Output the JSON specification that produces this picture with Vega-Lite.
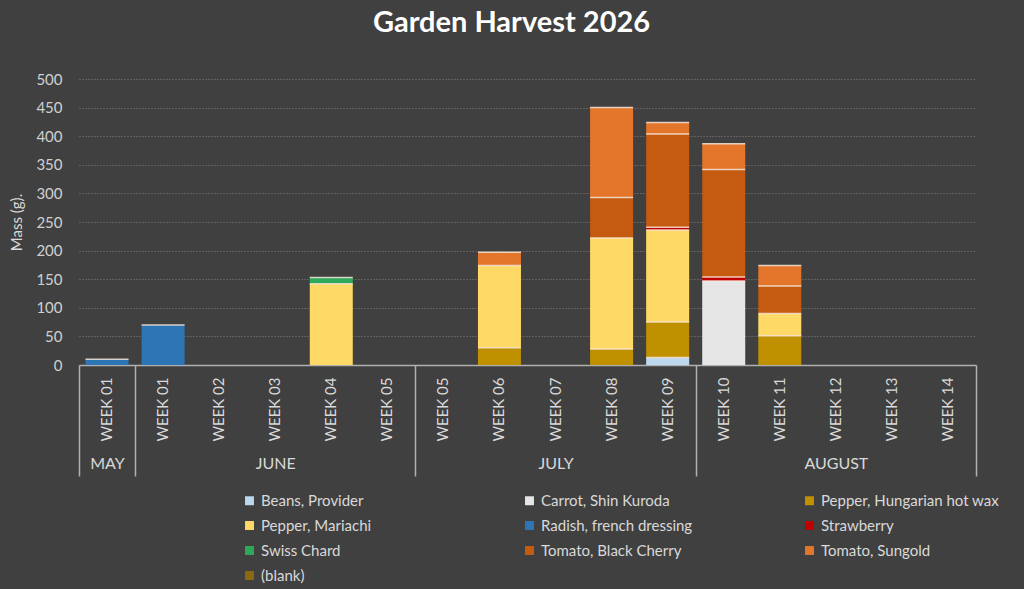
{
  "$schema": "https://vega.github.io/schema/vega-lite/v6.json",
  "autosize": {"type": "none"},
  "padding": {"left": 79, "top": 79, "right": 48, "bottom": 224},
  "width": 897,
  "height": 286,
  "background": "#404040",
  "title": {
    "text": "Garden Harvest 2026",
    "font": "Lato",
    "fontSize": 29,
    "fontWeight": "bold",
    "color": "#ffffff",
    "anchor": "middle",
    "dx": -16,
    "offset": 34
  },
  "data": {
    "values": [
      {"slot": "MAY|WEEK 01", "month": "MAY", "week": "WEEK 01", "crop": "Radish, french dressing", "mass": 10},
      {"slot": "JUNE|WEEK 01", "month": "JUNE", "week": "WEEK 01", "crop": "Radish, french dressing", "mass": 70},
      {"slot": "JUNE|WEEK 04", "month": "JUNE", "week": "WEEK 04", "crop": "Pepper, Mariachi", "mass": 142},
      {"slot": "JUNE|WEEK 04", "month": "JUNE", "week": "WEEK 04", "crop": "Swiss Chard", "mass": 11},
      {"slot": "JULY|WEEK 06", "month": "JULY", "week": "WEEK 06", "crop": "Pepper, Hungarian hot wax", "mass": 30},
      {"slot": "JULY|WEEK 06", "month": "JULY", "week": "WEEK 06", "crop": "Pepper, Mariachi", "mass": 144},
      {"slot": "JULY|WEEK 06", "month": "JULY", "week": "WEEK 06", "crop": "Tomato, Sungold", "mass": 23},
      {"slot": "JULY|WEEK 08", "month": "JULY", "week": "WEEK 08", "crop": "Pepper, Hungarian hot wax", "mass": 28},
      {"slot": "JULY|WEEK 08", "month": "JULY", "week": "WEEK 08", "crop": "Pepper, Mariachi", "mass": 194},
      {"slot": "JULY|WEEK 08", "month": "JULY", "week": "WEEK 08", "crop": "Tomato, Black Cherry", "mass": 71},
      {"slot": "JULY|WEEK 08", "month": "JULY", "week": "WEEK 08", "crop": "Tomato, Sungold", "mass": 157},
      {"slot": "JULY|WEEK 09", "month": "JULY", "week": "WEEK 09", "crop": "Beans, Provider", "mass": 13},
      {"slot": "JULY|WEEK 09", "month": "JULY", "week": "WEEK 09", "crop": "Pepper, Hungarian hot wax", "mass": 62},
      {"slot": "JULY|WEEK 09", "month": "JULY", "week": "WEEK 09", "crop": "Pepper, Mariachi", "mass": 161},
      {"slot": "JULY|WEEK 09", "month": "JULY", "week": "WEEK 09", "crop": "Strawberry", "mass": 5},
      {"slot": "JULY|WEEK 09", "month": "JULY", "week": "WEEK 09", "crop": "Tomato, Black Cherry", "mass": 163},
      {"slot": "JULY|WEEK 09", "month": "JULY", "week": "WEEK 09", "crop": "Tomato, Sungold", "mass": 20},
      {"slot": "AUGUST|WEEK 10", "month": "AUGUST", "week": "WEEK 10", "crop": "Carrot, Shin Kuroda", "mass": 147},
      {"slot": "AUGUST|WEEK 10", "month": "AUGUST", "week": "WEEK 10", "crop": "Strawberry", "mass": 7},
      {"slot": "AUGUST|WEEK 10", "month": "AUGUST", "week": "WEEK 10", "crop": "Tomato, Black Cherry", "mass": 188},
      {"slot": "AUGUST|WEEK 10", "month": "AUGUST", "week": "WEEK 10", "crop": "Tomato, Sungold", "mass": 45},
      {"slot": "AUGUST|WEEK 11", "month": "AUGUST", "week": "WEEK 11", "crop": "Pepper, Hungarian hot wax", "mass": 51},
      {"slot": "AUGUST|WEEK 11", "month": "AUGUST", "week": "WEEK 11", "crop": "Pepper, Mariachi", "mass": 39},
      {"slot": "AUGUST|WEEK 11", "month": "AUGUST", "week": "WEEK 11", "crop": "Tomato, Black Cherry", "mass": 48},
      {"slot": "AUGUST|WEEK 11", "month": "AUGUST", "week": "WEEK 11", "crop": "Tomato, Sungold", "mass": 36}
    ]
  },
  "layer": [
    {
      "layer": [
        {
          "mark": {"type": "bar"},
          "encoding": {
            "x": {
              "field": "slot",
              "type": "nominal",
              "sort": null,
              "scale": {
                "domain": ["MAY|WEEK 01", "JUNE|WEEK 01", "JUNE|WEEK 02", "JUNE|WEEK 03", "JUNE|WEEK 04", "JUNE|WEEK 05", "JULY|WEEK 05", "JULY|WEEK 06", "JULY|WEEK 07", "JULY|WEEK 08", "JULY|WEEK 09", "AUGUST|WEEK 10", "AUGUST|WEEK 11", "AUGUST|WEEK 12", "AUGUST|WEEK 13", "AUGUST|WEEK 14"],
                "paddingInner": 0.233,
                "paddingOuter": 0.1165
              },
              "axis": {
                "orient": "bottom",
                "title": null,
                "labelExpr": "split(datum.label, '|')[1]",
                "labelAngle": -90,
                "labelPadding": 12,
                "labelFont": "Lato",
                "labelFontSize": 15,
                "labelColor": "#d9d9d9",
                "ticks": false,
                "domainColor": "#b0b0b0",
                "domainWidth": 1.5,
                "grid": false
              }
            },
            "y": {
              "field": "mass",
              "type": "quantitative",
              "stack": "zero",
              "scale": {"domain": [0, 500], "nice": false},
              "axis": {
                "title": "Mass (g).",
                "titleFont": "Lato",
                "titleFontSize": 15,
                "titleFontWeight": "normal",
                "titleColor": "#d9d9d9",
                "titlePadding": 11,
                "values": [0, 50, 100, 150, 200, 250, 300, 350, 400, 450, 500],
                "labelOverlap": false,
                "labelFont": "Lato",
                "labelFontSize": 15,
                "labelColor": "#d0d0d0",
                "labelPadding": 17,
                "ticks": false,
                "domain": false,
                "grid": true,
                "gridColor": "#808080",
                "gridDash": [1, 2],
                "gridWidth": 1
              }
            },
            "color": {
              "field": "crop",
              "type": "nominal",
              "scale": {
                "domain": ["Beans, Provider", "Carrot, Shin Kuroda", "Pepper, Hungarian hot wax", "Pepper, Mariachi", "Radish, french dressing", "Strawberry", "Swiss Chard", "Tomato, Black Cherry", "Tomato, Sungold", "(blank)"],
                "range": ["#bdd7ee", "#e7e6e6", "#bf9000", "#ffd966", "#2e75b6", "#c00000", "#2ea95a", "#c55a11", "#e3762b", "#8a6a10"]
              },
              "legend": {
                "title": null,
                "orient": "none",
                "direction": "horizontal",
                "legendX": 163,
                "legendY": 414,
                "columns": 3,
                "gridAlign": "all",
                "columnPadding": 83,
                "rowPadding": 9,
                "padding": 0,
                "symbolType": "square",
                "symbolSize": 80,
                "symbolStrokeWidth": 0,
                "labelFont": "Lato",
                "labelFontSize": 15,
                "labelColor": "#d9d9d9",
                "labelOffset": 4,
                "labelLimit": 300
              }
            },
            "order": {"field": "crop", "type": "ordinal", "sort": "ascending"}
          }
        },
        {
          "mark": {"type": "tick", "color": "#f7e6d8", "thickness": 1.5, "size": 43, "opacity": 0.85},
          "encoding": {
            "x": {
              "field": "slot",
              "type": "nominal",
              "sort": null,
              "axis": {
                "orient": "bottom",
                "title": null,
                "labelExpr": "split(datum.label, '|')[1]",
                "labelAngle": -90,
                "labelPadding": 12,
                "labelFont": "Lato",
                "labelFontSize": 15,
                "labelColor": "#d9d9d9",
                "ticks": false,
                "domainColor": "#b0b0b0",
                "domainWidth": 1.5,
                "grid": false
              }
            },
            "y": {
              "field": "mass",
              "type": "quantitative",
              "stack": "zero",
              "axis": {
                "title": "Mass (g).",
                "titleFont": "Lato",
                "titleFontSize": 15,
                "titleFontWeight": "normal",
                "titleColor": "#d9d9d9",
                "titlePadding": 11,
                "values": [0, 50, 100, 150, 200, 250, 300, 350, 400, 450, 500],
                "labelOverlap": false,
                "labelFont": "Lato",
                "labelFontSize": 15,
                "labelColor": "#d0d0d0",
                "labelPadding": 17,
                "ticks": false,
                "domain": false,
                "grid": true,
                "gridColor": "#808080",
                "gridDash": [1, 2],
                "gridWidth": 1
              }
            },
            "detail": {"field": "crop", "type": "nominal"},
            "order": {"field": "crop", "type": "ordinal", "sort": "ascending"}
          }
        }
      ]
    },
    {
      "data": {"values": [{}]},
      "mark": {"type": "rule", "opacity": 0},
      "encoding": {
        "x": {
          "datum": 0,
          "type": "quantitative",
          "scale": {"domain": [0, 16], "nice": false, "zero": false},
          "axis": {
            "orient": "bottom",
            "title": null,
            "values": [0, 1, 6, 11, 16],
            "labels": false,
            "domain": false,
            "grid": false,
            "ticks": true,
            "tickSize": 111,
            "tickColor": "#b0b0b0",
            "tickWidth": 1.5
          }
        }
      }
    },
    {
      "data": {"values": [{}]},
      "mark": {"type": "rule", "opacity": 0},
      "encoding": {
        "x": {
          "datum": 0,
          "type": "quantitative",
          "scale": {"domain": [0, 16], "nice": false, "zero": false},
          "axis": {
            "orient": "bottom",
            "title": null,
            "offset": 90,
            "values": [0.5, 3.5, 8.5, 13.5],
            "labelExpr": "datum.value == 0.5 ? 'MAY' : datum.value == 3.5 ? 'JUNE' : datum.value == 8.5 ? 'JULY' : 'AUGUST'",
            "labelFont": "Lato",
            "labelFontSize": 16,
            "labelColor": "#d9d9d9",
            "labelPadding": 0,
            "labelBaseline": "top",
            "labelFlush": false,
            "labelOverlap": false,
            "domain": false,
            "grid": false,
            "ticks": false
          }
        }
      }
    }
  ],
  "resolve": {"scale": {"x": "independent"}, "axis": {"x": "independent"}},
  "config": {
    "view": {"stroke": null},
    "font": "Lato"
  }
}
